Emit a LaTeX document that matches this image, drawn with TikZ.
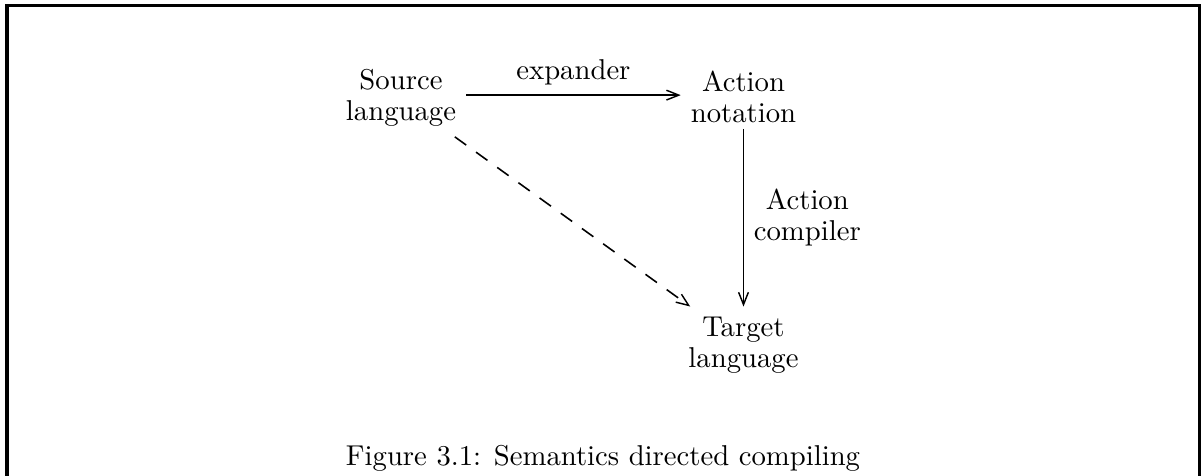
\documentclass[tikz,border=0pt]{standalone}
\usetikzlibrary{arrows.meta}
\begin{document}
\begin{tikzpicture}[x=0.34843pt,y=-0.34843pt,
  lbl/.style={align=center,font=\fontsize{10}{10.9}\selectfont},
  arr/.style={-{Straight Barb[length=4.3pt,width=3.4pt,line width=0.5pt]},line width=0.55pt},
  frame/.style={line width=1.05pt}]
\useasboundingbox (0,0) rectangle (1201,475);
\draw[frame] (7,480) -- (7,5.5) -- (1199.5,5.5) -- (1199.5,480);
\node[lbl] (src) at (401,98) {Source\\language};
\node[lbl] (act) at (743.5,97) {Action\\notation};
\node[lbl] (tgt) at (743.5,345) {Target\\language};
\draw[arr] ([yshift=1pt]src.east) -- ([yshift=1pt]src.east -| act.west)
  node[midway,above,font=\fontsize{10}{12}\selectfont] (exp) {expander};
\draw[arr] ([yshift=1.5pt]act.south) -- (tgt.north)
  node[midway,right,lbl] (comp) {Action\\compiler};
\draw[arr,dash pattern=on 4.9pt off 4.2pt] (src) -- (tgt);
\node[anchor=base] (cap) at (603,465) {Figure 3.1: Semantics directed compiling};
\end{tikzpicture}
\end{document}
